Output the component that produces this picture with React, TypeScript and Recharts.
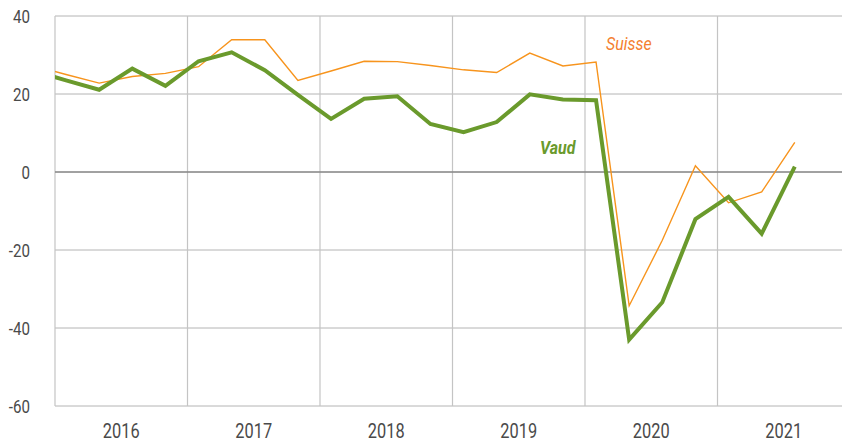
import { CartesianGrid, Line, LineChart, ReferenceLine, XAxis, YAxis } from 'recharts'

// quarterly points, x = year + month offset (Feb, May, Aug, Nov)
const quarters = [
  '2015-T4', '2016-T1', '2016-T2', '2016-T3', '2016-T4',
  '2017-T1', '2017-T2', '2017-T3', '2017-T4',
  '2018-T1', '2018-T2', '2018-T3', '2018-T4',
  '2019-T1', '2019-T2', '2019-T3', '2019-T4',
  '2020-T1', '2020-T2', '2020-T3', '2020-T4',
  '2021-T1', '2021-T2', '2021-T3',
]
const vaud = [
  26.0, 23.5, 21.1, 26.5, 22.1,
  28.4, 30.7, 26.1, 19.8,
  13.6, 18.8, 19.4, 12.3,
  10.2, 12.8, 19.9, 18.6,
  18.4, -43.0, -33.4, -12.1,
  -6.4, -15.8, 1.4,
]
const suisse = [
  27.3, 25.0, 22.8, 24.5, 25.3,
  27.0, 33.9, 33.9, 23.5,
  25.9, 28.4, 28.3, 27.3,
  26.2, 25.5, 30.5, 27.2,
  28.2, -34.3, -17.5, 1.6,
  -7.9, -5.1, 7.6,
]
const years = [2016, 2017, 2018, 2019, 2020, 2021]
const yTicks = [-60, -40, -20, 0, 20, 40]

const data = quarters.map((q, i) => {
  const [y, t] = q.split('-T')
  return { x: Number(y) + 1 / 12 + (Number(t) - 1) * 0.25, vaud: vaud[i], suisse: suisse[i] }
})

const FONT = 'Roboto, sans-serif'
const TEXT = '#4a4a4a'
const NARROW = 0.84
const WIDTH = 842
const HEIGHT = 443

// condensed look: roboto squeezed horizontally
function YearTick(props: any) {
  const { x, y, payload } = props
  return (
    <g transform={`translate(${x},${y})`}>
      <text transform={`scale(${NARROW},1)`} textAnchor="middle" dy={32.5} fill={TEXT} fontSize={19.5} fontFamily={FONT}>
        {Math.floor(payload.value)}
      </text>
    </g>
  )
}

function ValueTick(props: any) {
  const { y, payload } = props
  return (
    <g transform={`translate(30,${y})`}>
      <text transform={`scale(${NARROW},1)`} textAnchor="end" dy={6.5} fill={TEXT} fontSize={18} fontFamily={FONT}>
        {payload.value}
      </text>
    </g>
  )
}

export default function App() {
  return (
    <div style={{ position: 'absolute', left: 0, top: 0, width: WIDTH, height: HEIGHT, background: '#fff' }}>
      <LineChart width={WIDTH} height={HEIGHT} data={data} margin={{ top: 16, right: 0, bottom: 7, left: 0 }}>
        <CartesianGrid vertical={false} stroke="#b4b4b4" />
        <XAxis
          type="number"
          dataKey="x"
          domain={[2016, 2016 + 787 / 132.5]}
          allowDataOverflow
          ticks={years.map((y) => y + 0.5)}
          axisLine={false}
          tickLine={false}
          tickSize={0}
          tickMargin={0}
          height={30}
          tick={YearTick}
        />
        <YAxis
          domain={[-60, 40]}
          ticks={yTicks}
          allowDataOverflow
          axisLine={false}
          tickLine={false}
          width={55}
          tick={ValueTick}
        />
        {years.map((y) => (
          <ReferenceLine key={y} x={y} stroke="#c4c4c4" strokeWidth={1.2} />
        ))}
        <ReferenceLine y={0} stroke="#6a6a6a" strokeWidth={1.2} />
        <Line
          type="linear"
          dataKey="suisse"
          stroke="#f7941d"
          strokeWidth={1.4}
          dot={false}
          activeDot={false}
          isAnimationActive={false}
        />
        <Line
          type="linear"
          dataKey="vaud"
          stroke="#6a9a2c"
          strokeWidth={4}
          dot={false}
          activeDot={false}
          isAnimationActive={false}
        />
      </LineChart>
      <svg
        width={WIDTH}
        height={HEIGHT}
        style={{ position: 'absolute', left: 0, top: 0, pointerEvents: 'none' }}
      >
        <g transform="translate(606,50)">
          <text transform={`scale(${NARROW},1)`} fill="#f47f30" fontSize={19} fontStyle="italic" fontFamily={FONT}>
            Suisse
          </text>
        </g>
        <g transform="translate(540,154)">
          <text
            transform={`scale(${NARROW},1)`}
            fill="#6a9a2c"
            fontSize={19}
            fontStyle="italic"
            fontWeight="bold"
            fontFamily={FONT}
          >
            Vaud
          </text>
        </g>
      </svg>
    </div>
  )
}
